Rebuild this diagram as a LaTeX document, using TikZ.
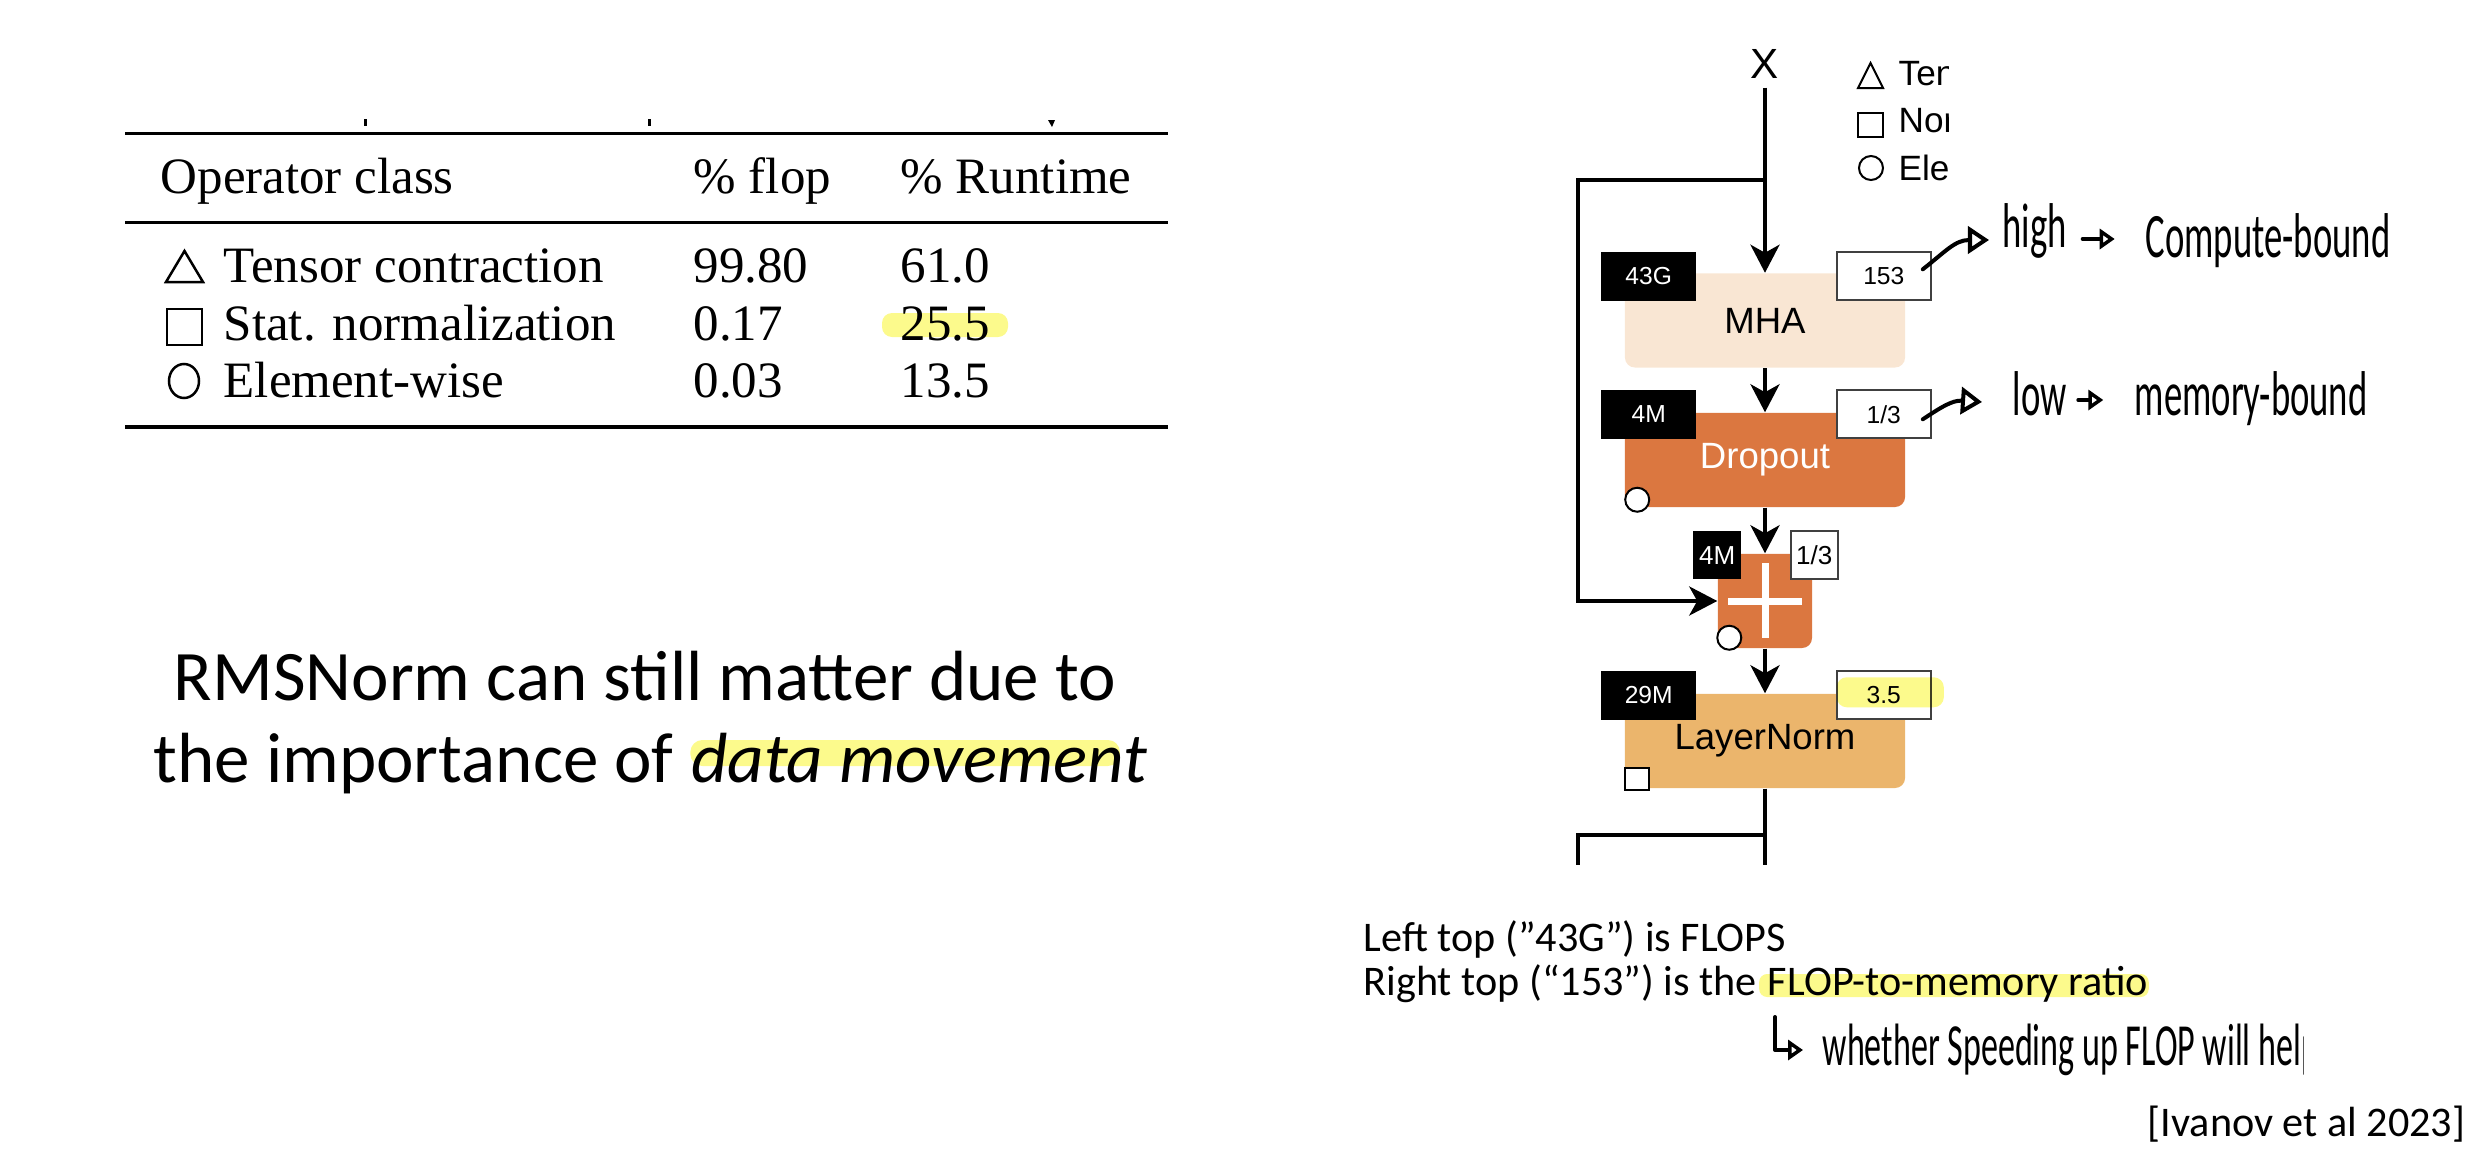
\documentclass[tikz,border=0pt]{standalone}
\usepackage{fontspec}
\setmainfont{Carlito}
\newfontfamily\serifface{Liberation Serif}
\newfontfamily\helvface{Liberation Sans}
\usepackage{graphicx}
\usetikzlibrary{arrows.meta,calc,positioning}

\definecolor{mhafill}{RGB}{249,230,211}
\definecolor{dropfill}{RGB}{219,119,64}
\definecolor{lnfill}{RGB}{235,181,108}
\definecolor{hilite}{RGB}{252,250,140}

\newcommand{\scribble}[2]{\scalebox{#1}[1]{#2}}

\begin{document}
\begin{tikzpicture}[x=0.01cm,y=-0.01cm,
  flow/.style={line width=0.04cm},
  arrowed/.style={-{Stealth[length=0.28cm,width=0.29cm,inset=0.08cm]}},
  opbox/.style={rounded corners=0.1cm, minimum width=2.8cm, minimum height=0.94cm, inner sep=0, font=\helvface\fontsize{10.4}{12}\selectfont},
  flopbox/.style={fill=black, text=white, minimum width=0.95cm, minimum height=0.49cm, inner sep=0, font=\helvface\fontsize{7}{8}\selectfont},
  ratiobox/.style={fill=white, draw=black!75, line width=0.02cm, minimum width=0.94cm, minimum height=0.48cm, inner sep=0, font=\helvface\fontsize{7}{8}\selectfont},
  kindmark/.style={fill=white, draw=black, line width=0.02cm},
  tabtext/.style={anchor=base west, inner sep=0, font=\serifface\fontsize{14.5}{17}\selectfont},
  slidetext/.style={inner sep=0, font=\fontsize{20.2}{24}\selectfont},
  captext/.style={anchor=base west, inner sep=0, font=\fontsize{12}{14}\selectfont},
  notetext/.style={anchor=base west, inner sep=0, font=\fontsize{18}{18}\selectfont},
  legendtext/.style={anchor=base west, inner sep=0, font=\helvface\fontsize{10}{12}\selectfont},
  hand/.style={line width=0.04cm, line cap=round, line join=round},
  handtip/.style={-{Triangle[open, length=0.21cm, width=0.27cm, line width=0.04cm]}},
  handtipsmall/.style={-{Triangle[open, length=0.15cm, width=0.2cm, line width=0.035cm]}},
  hl/.style={fill=hilite, blend mode=multiply}
]
\useasboundingbox (0,0) rectangle (2480,1154);

%%%%% TABLE %%%%%
\fill (364,119) rectangle (367,126);
\fill (648,119) rectangle (651,126);
\fill (1048,120) -- (1055,120) -- (1052,127) -- cycle;
\fill (125,131.5) rectangle (1168,135);
\fill (125,221) rectangle (1168,223.5);
\fill (125,425) rectangle (1168,428.5);

\node[tabtext] (hclass) at (160,193) {Operator class};
\node[tabtext] (hflop) at (693,193) {\% flop};
\node[tabtext] (hrun) at (900,193) {\% Runtime};

\fill[hilite, rounded corners=0.1cm] (882,313) rectangle (1008,337);

\draw[line width=0.025cm, line join=miter] (166,282) -- (203,282) -- (184.5,251) -- cycle;
\draw[line width=0.025cm] (167,309) rectangle (202,345);
\draw[line width=0.025cm] (184,381) ellipse [x radius=0.15cm, y radius=0.17cm];

\node[tabtext] (tname) at (223,282) {Tensor contraction};
\node[tabtext] (tflop) at (693,282) {99.80};
\node[tabtext] (trun) at (900,282) {61.0};
\node[tabtext] (sname) at (223,340) {Stat. normalization};
\node[tabtext] (sflop) at (693,340) {0.17};
\node[tabtext] (srun) at (900,340) {25.5};
\node[tabtext] (ename) at (223,397) {Element-wise};
\node[tabtext] (eflop) at (693,397) {0.03};
\node[tabtext] (erun) at (900,397) {13.5};

%%%%% CLAIM %%%%%
\node[slidetext, anchor=base] (claima) at (645,700) {RMSNorm can still matter due to};
\node[slidetext, anchor=base west] (claimb) at (153,782) {the importance of};
\node[slidetext, anchor=base west] (claimc) at ([xshift=0.16cm]claimb.base east) {\itshape data movement};
\fill[hl, rounded corners=0.12cm] ($(claimc.base west)+(0,-42)$) rectangle ($(claimc.base east)+(-28,-16)$);

%%%%% BLOCK DIAGRAM %%%%%
\node[inner sep=0.09cm, anchor=base, font=\helvface\fontsize{12}{14}\selectfont] (xin) at (1765,78) {X};

\node[opbox, fill=mhafill] (mha) at (1765,320.5) {MHA};
\node[opbox, fill=dropfill, text=white] (drop) at (1765,460) {Dropout};
\node[fill=dropfill, rounded corners=0.1cm, minimum size=0.94cm, inner sep=0] (add) at (1765,601) {};
\draw[white, line width=0.07cm] ($(add.center)+(0,-38)$) -- ($(add.center)+(0,37)$);
\draw[white, line width=0.07cm] ($(add.center)+(-37,0)$) -- ($(add.center)+(37,0)$);
\node[opbox, fill=lnfill] (ln) at (1765,741) {LayerNorm};

\node[flopbox] (mhaflop) at ($(mha.north west)+(24.5,3.5)$) {43G};
\node[ratiobox] (mharatio) at ($(mha.north east)+(-22,3.5)$) {153};
\node[flopbox] (dropflop) at ($(drop.north west)+(24.5,2)$) {4M};
\node[ratiobox] (dropratio) at ($(drop.north east)+(-22,2)$) {1/3};
\node[flopbox, minimum width=0.48cm, minimum height=0.48cm, font=\helvface\fontsize{7.4}{8}\selectfont] (addflop) at ($(add.north west)+(0,2)$) {4M};
\node[ratiobox, minimum width=0.47cm, minimum height=0.48cm, font=\helvface\fontsize{7.4}{8}\selectfont] (addratio) at ($(add.north east)+(1.5,2)$) {1/3};
\node[flopbox] (lnflop) at ($(ln.north west)+(24.5,2)$) {29M};
\node[ratiobox] (lnratio) at ($(ln.north east)+(-22,2)$) {3.5};
\fill[hl, rounded corners=0.1cm] ($(lnratio.west)+(1,-18)$) rectangle ($(lnratio.east)+(12,12)$);

\draw[kindmark] ($(drop.south west)+(13,-8)$) circle (0.12cm);
\draw[kindmark] ($(add.south west)+(12,-11)$) circle (0.12cm);
\draw[kindmark] ($(ln.south west)+(1,-21)$) rectangle ++(24,22);

\draw[flow, arrowed] (xin.south) -- (mha.north);
\draw[flow, arrowed] (mha.south) -- (drop.north);
\draw[flow, arrowed] (drop.south) -- (add.north);
\draw[flow, arrowed] (add.south) -- (ln.north);
\coordinate (split) at (1765,180);
\draw[flow, arrowed] (split) -- ++(-187,0) |- (add.west);
\coordinate (lnout) at (1765,865);
\draw[flow] (ln.south) -- (lnout);
\coordinate (split2) at (1765,835);
\draw[flow] (split2) -- ++(-187,0) -- ++(0,30);

% legend, cut at the right
\draw[kindmark, line join=miter] (1858,88) -- (1883,88) -- (1870.5,63) -- cycle;
\draw[kindmark] (1858,113) rectangle (1883,137);
\draw[kindmark] (1871,168) circle (0.12cm);
\begin{scope}
\clip (1890,40) rectangle (1948,200);
\node[legendtext] (lten) at (1898,85) {Ten};
\node[legendtext] (lnor) at (1898,132) {Nor};
\node[legendtext] (lele) at (1898,180) {Ele};
\end{scope}

%%%%% NOTES %%%%%
\draw[hand, handtip] ($(mharatio.east)+(-9,-7)$) .. controls (1945,252) and (1955,240) .. (1989,240);
\node[notetext] (high) at (2002,247) {\scribble{0.58}{high}};
\draw[hand, handtipsmall] ($(high.base east)+(15,-8)$) -- ++(32,0);
\node[notetext] (compute) at (2145,257) {\scribble{0.58}{Compute-bound}};

\draw[hand, handtip] ($(dropratio.east)+(-9,5)$) .. controls (1940,408) and (1952,400) .. (1982,402);
\node[notetext] (low) at (2012,415) {\scribble{0.58}{low}};
\draw[hand, handtipsmall] ($(low.base east)+(11,-15)$) -- ++(25,0);
\node[notetext] (memory) at (2134,415) {\scribble{0.58}{memory-bound}};

%%%%% CAPTION %%%%%
\node[captext] (leftnote) at (1363,951) {Left top (”43G”) is FLOPS};
\node[captext] (rightnote) at (1363,995) {Right top (“153”) is the};
\node[captext] (ratio) at ([xshift=0.095cm]rightnote.base east) {FLOP-to-memory ratio};
\fill[hl, rounded corners=0.08cm] ($(ratio.base west)+(-8,-21)$) rectangle ($(ratio.base east)+(0,2)$);

\draw[hand, handtipsmall] ($(rightnote.base west)+(412,22)$) |- ++(28,33);
\begin{scope}
\clip (1810,1010) rectangle (2303,1090);
\node[notetext, font=\fontsize{17}{17}\selectfont] (whether) at ($(rightnote.base west)+(459,70)$) {\scribble{0.57}{whether Speeding up FLOP will help}};
\end{scope}

\node[captext, anchor=base east] (cite) at (2466,1136) {[Ivanov et al 2023]};

\end{tikzpicture}
\end{document}
